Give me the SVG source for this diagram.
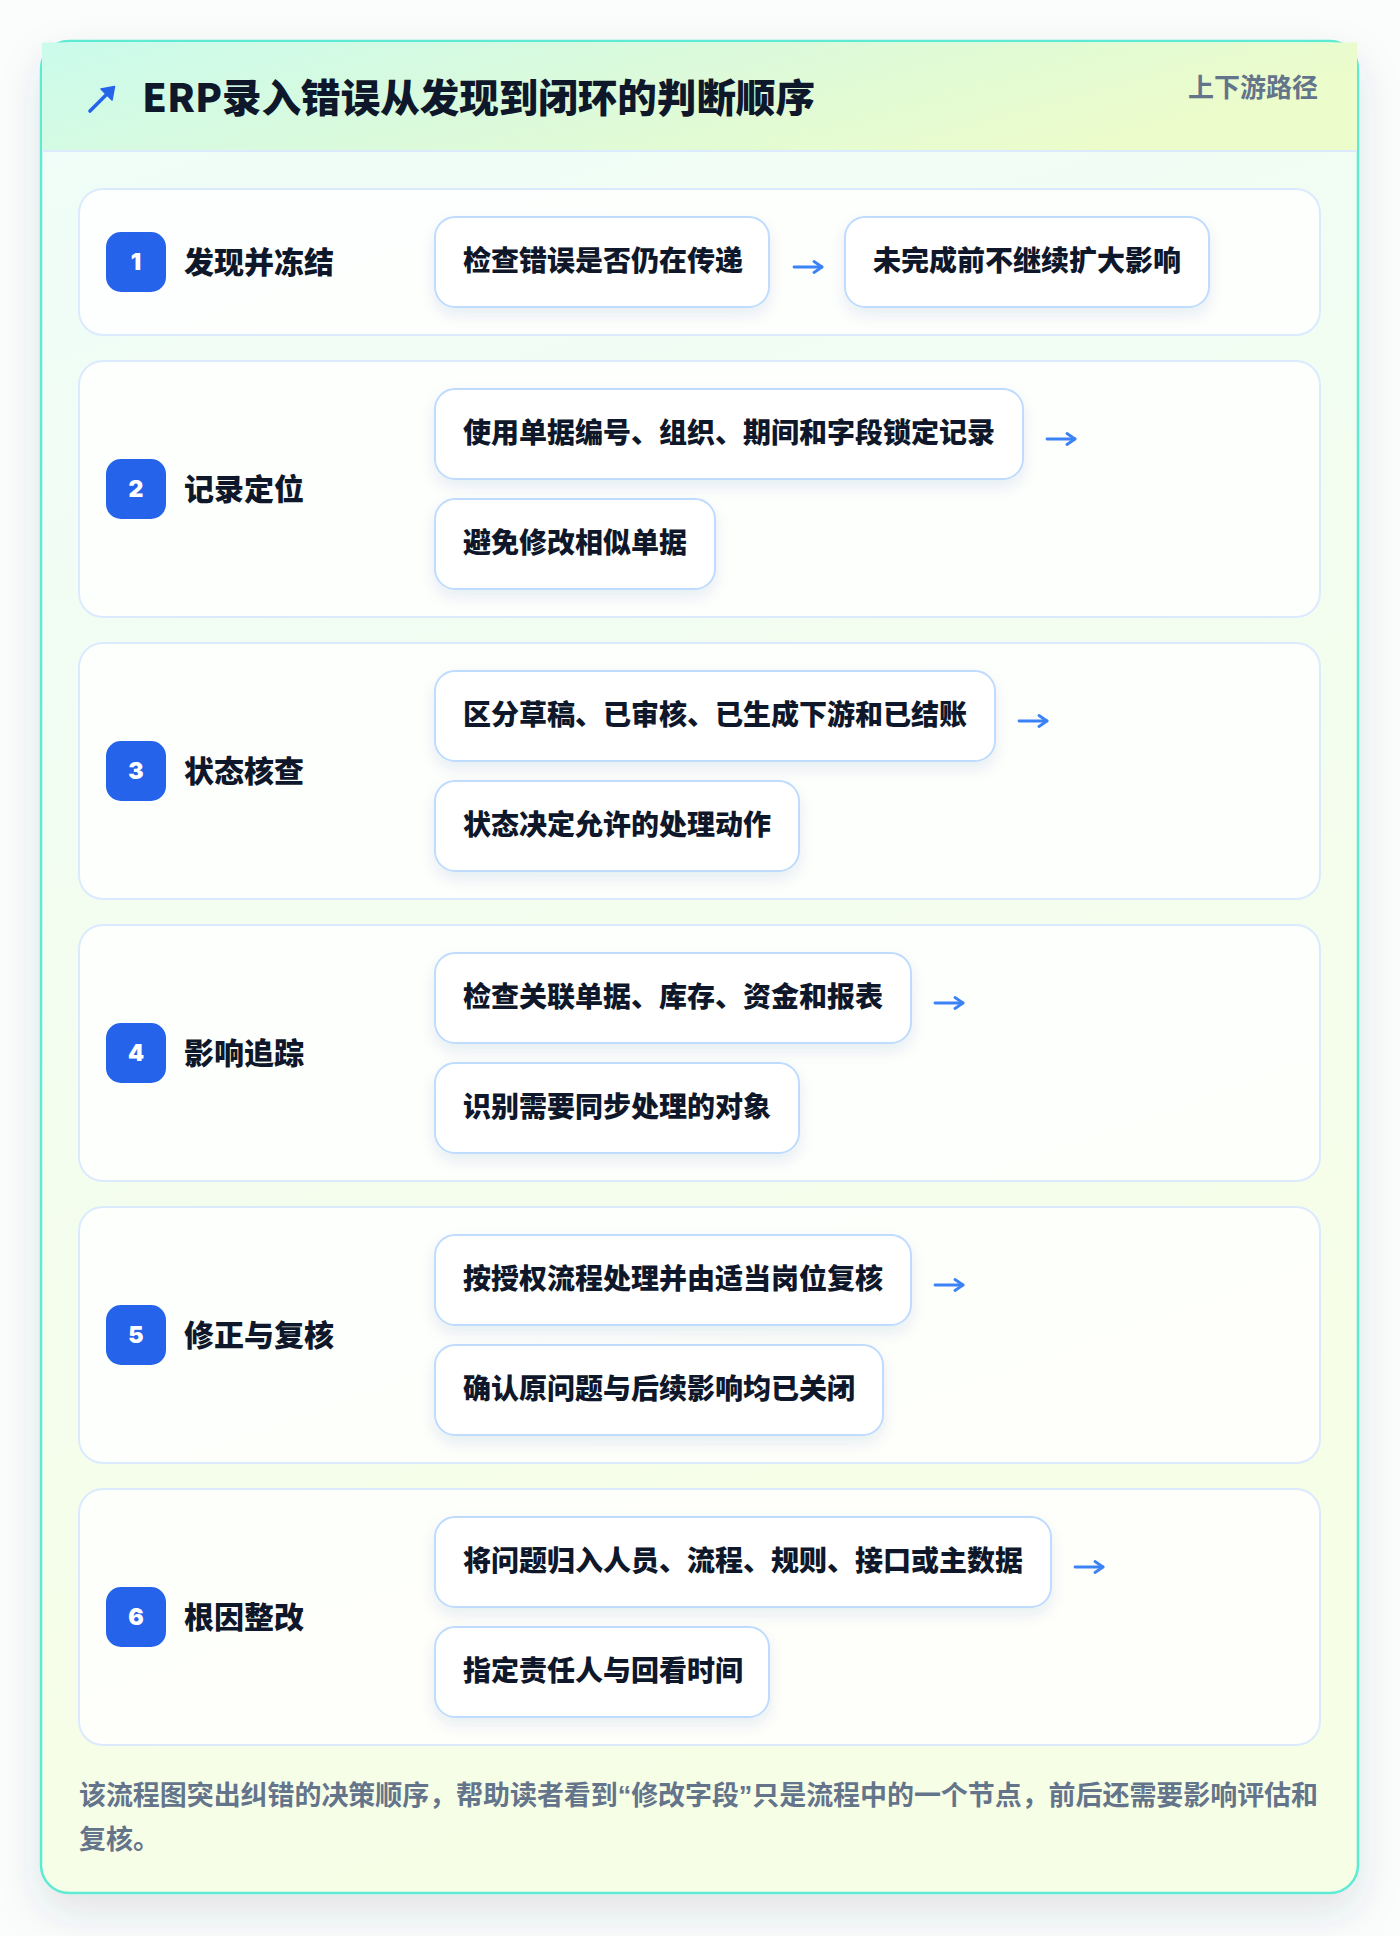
<svg xmlns="http://www.w3.org/2000/svg" width="1400" height="1936" viewBox="0 0 1400 1936">
  <defs>
    <linearGradient id="cardBg" x1="0" y1="0" x2="0.25" y2="1">
      <stop offset="0" stop-color="#effdf9"/>
      <stop offset="1" stop-color="#f7fee6"/>
    </linearGradient>
    <linearGradient id="headBg" x1="0" y1="0" x2="1" y2="0.3">
      <stop offset="0" stop-color="#cbfbec"/>
      <stop offset="0.5" stop-color="#dbfadb"/>
      <stop offset="1" stop-color="#ecfccb"/>
    </linearGradient>
    <filter id="cardShadow" x="-10%" y="-10%" width="120%" height="120%">
      <feDropShadow dx="0" dy="18" stdDeviation="20" flood-color="#334155" flood-opacity="0.13"/>
    </filter>
    <filter id="nodeShadow" x="-10%" y="-20%" width="120%" height="160%">
      <feDropShadow dx="0" dy="7" stdDeviation="7" flood-color="#1e3a8a" flood-opacity="0.09"/>
    </filter>
    <marker id="head" viewBox="0 0 12 14" refX="10" refY="7" markerWidth="12" markerHeight="14" markerUnits="userSpaceOnUse" orient="auto">
      <path d="M2,1.5 L10,7 L2,12.5" fill="none" stroke="#3b82f6" stroke-width="2.8" stroke-linecap="round" stroke-linejoin="round"/>
    </marker>
    <style>
      .cjk { font-family: "Noto Sans CJK SC", "Noto Sans", sans-serif; }
      .title { font-size: 39px; font-weight: 900; fill: #0f172a; }
      .tag { font-size: 26px; font-weight: 700; fill: #64748b; }
      .row { fill: #ffffff; fill-opacity: 0.82; stroke: #dbeafe; stroke-width: 2; }
      .badge { fill: #2563eb; }
      .num { font-family: "Inter", "Noto Sans", sans-serif; font-size: 23px; font-weight: 900; fill: #ffffff; }
      .label { font-size: 30px; font-weight: 900; fill: #0f172a; }
      .node { fill: #ffffff; stroke: #bfdbfe; stroke-width: 2; filter: url(#nodeShadow); }
      .ntext { font-size: 28px; font-weight: 900; fill: #0f172a; }
      .conn { fill: none; stroke: #3b82f6; stroke-width: 2.8; stroke-linecap: round; marker-end: url(#head); }
      .foot { font-size: 27px; font-weight: 700; fill: #64748b; }
      .q { font-family: "Liberation Sans", sans-serif; }
    </style>
  </defs>

  <rect x="0" y="0" width="1400" height="1936" fill="#fbfcfc"/>

  <g id="card">
    <rect x="41" y="41" width="1317" height="1852" rx="28" fill="url(#cardBg)" stroke="#5eead4" stroke-width="2.5" filter="url(#cardShadow)"/>
    <rect x="42" y="42.5" width="1315" height="108" fill="url(#headBg)"/>
    <line x1="42" y1="151" x2="1357" y2="151" stroke="#dbeafe" stroke-width="2"/>
  </g>

  <g id="header">
    <g id="title-icon">
      <line x1="90" y1="111" x2="108" y2="93" stroke="#2563eb" stroke-width="3.6" stroke-linecap="round"/>
      <path d="M114.5,86.5 L112,100 L101,89 Z" fill="#2563eb" stroke="#2563eb" stroke-width="1.5" stroke-linejoin="round"/>
    </g>
    <text class="cjk title" x="142" y="112" textLength="673" lengthAdjust="spacingAndGlyphs">ERP录入错误从发现到闭环的判断顺序</text>
    <text class="cjk tag" x="1318" y="97" text-anchor="end">上下游路径</text>
  </g>

  <g id="step1">
    <rect class="row" x="79" y="189" width="1241" height="146" rx="24"/>
    <rect class="badge" x="106" y="232" width="60" height="60" rx="15"/>
    <text class="num" x="136" y="270" text-anchor="middle">1</text>
    <text class="cjk label" x="184" y="273">发现并冻结</text>
    <g id="step1-a">
      <rect class="node" x="435" y="217" width="334" height="90" rx="20"/>
      <text class="cjk ntext" x="463" y="271">检查错误是否仍在传递</text>
    </g>
    <g id="step1-b">
      <rect class="node" x="845" y="217" width="364" height="90" rx="20"/>
      <text class="cjk ntext" x="873" y="271">未完成前不继续扩大影响</text>
    </g>
  </g>

  <g id="step2">
    <rect class="row" x="79" y="361" width="1241" height="256" rx="24"/>
    <rect class="badge" x="106" y="459" width="60" height="60" rx="15"/>
    <text class="num" x="136" y="497" text-anchor="middle">2</text>
    <text class="cjk label" x="184" y="500">记录定位</text>
    <g id="step2-a">
      <rect class="node" x="435" y="389" width="588" height="90" rx="20"/>
      <text class="cjk ntext" x="463" y="443">使用单据编号、组织、期间和字段锁定记录</text>
    </g>
    <g id="step2-b">
      <rect class="node" x="435" y="499" width="280" height="90" rx="20"/>
      <text class="cjk ntext" x="463" y="553">避免修改相似单据</text>
    </g>
  </g>

  <g id="step3">
    <rect class="row" x="79" y="643" width="1241" height="256" rx="24"/>
    <rect class="badge" x="106" y="741" width="60" height="60" rx="15"/>
    <text class="num" x="136" y="779" text-anchor="middle">3</text>
    <text class="cjk label" x="184" y="782">状态核查</text>
    <g id="step3-a">
      <rect class="node" x="435" y="671" width="560" height="90" rx="20"/>
      <text class="cjk ntext" x="463" y="725">区分草稿、已审核、已生成下游和已结账</text>
    </g>
    <g id="step3-b">
      <rect class="node" x="435" y="781" width="364" height="90" rx="20"/>
      <text class="cjk ntext" x="463" y="835">状态决定允许的处理动作</text>
    </g>
  </g>

  <g id="step4">
    <rect class="row" x="79" y="925" width="1241" height="256" rx="24"/>
    <rect class="badge" x="106" y="1023" width="60" height="60" rx="15"/>
    <text class="num" x="136" y="1061" text-anchor="middle">4</text>
    <text class="cjk label" x="184" y="1064">影响追踪</text>
    <g id="step4-a">
      <rect class="node" x="435" y="953" width="476" height="90" rx="20"/>
      <text class="cjk ntext" x="463" y="1007">检查关联单据、库存、资金和报表</text>
    </g>
    <g id="step4-b">
      <rect class="node" x="435" y="1063" width="364" height="90" rx="20"/>
      <text class="cjk ntext" x="463" y="1117">识别需要同步处理的对象</text>
    </g>
  </g>

  <g id="step5">
    <rect class="row" x="79" y="1207" width="1241" height="256" rx="24"/>
    <rect class="badge" x="106" y="1305" width="60" height="60" rx="15"/>
    <text class="num" x="136" y="1343" text-anchor="middle">5</text>
    <text class="cjk label" x="184" y="1346">修正与复核</text>
    <g id="step5-a">
      <rect class="node" x="435" y="1235" width="476" height="90" rx="20"/>
      <text class="cjk ntext" x="463" y="1289">按授权流程处理并由适当岗位复核</text>
    </g>
    <g id="step5-b">
      <rect class="node" x="435" y="1345" width="448" height="90" rx="20"/>
      <text class="cjk ntext" x="463" y="1399">确认原问题与后续影响均已关闭</text>
    </g>
  </g>

  <g id="step6">
    <rect class="row" x="79" y="1489" width="1241" height="256" rx="24"/>
    <rect class="badge" x="106" y="1587" width="60" height="60" rx="15"/>
    <text class="num" x="136" y="1625" text-anchor="middle">6</text>
    <text class="cjk label" x="184" y="1628">根因整改</text>
    <g id="step6-a">
      <rect class="node" x="435" y="1517" width="616" height="90" rx="20"/>
      <text class="cjk ntext" x="463" y="1571">将问题归入人员、流程、规则、接口或主数据</text>
    </g>
    <g id="step6-b">
      <rect class="node" x="435" y="1627" width="334" height="90" rx="20"/>
      <text class="cjk ntext" x="463" y="1681">指定责任人与回看时间</text>
    </g>
  </g>

  <g id="connectors">
    <path class="conn" d="M794,267 H822"/>
    <path class="conn" d="M1047,439 H1075"/>
    <path class="conn" d="M1019,721 H1047"/>
    <path class="conn" d="M935,1003 H963"/>
    <path class="conn" d="M935,1285 H963"/>
    <path class="conn" d="M1075,1567 H1103"/>
  </g>

  <g id="footer">
    <text class="cjk foot" x="79" y="1805" textLength="1239" lengthAdjust="spacing">该流程图突出纠错的决策顺序，帮助读者看到<tspan class="q">“</tspan>修改字段<tspan class="q">”</tspan>只是流程中的一个节点，前后还需要影响评估和</text>
    <text class="cjk foot" x="79" y="1849">复核。</text>
  </g>
</svg>
